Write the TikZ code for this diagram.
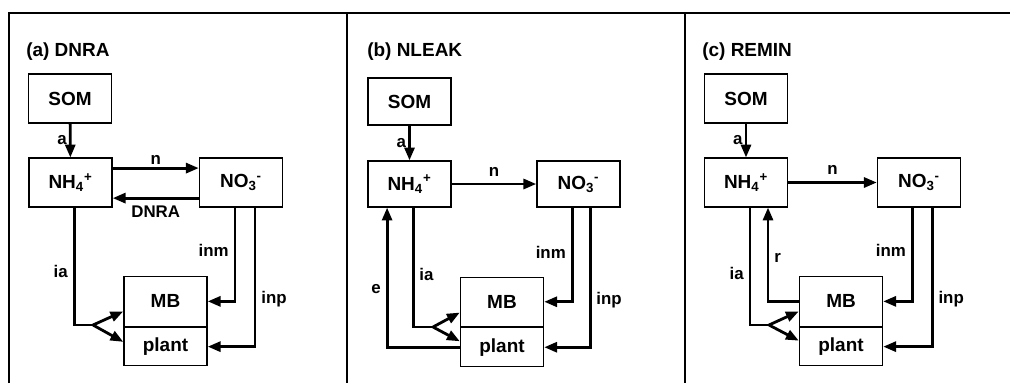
\documentclass[tikz,border=0pt]{standalone}
\usepackage{fontspec}
\setmainfont{Liberation Sans}
\usetikzlibrary{arrows.meta, positioning}

\begin{document}
\begin{tikzpicture}[
  x=0.025cm, y=-0.025cm,
  pool/.style={draw, line width=0.9pt, minimum width=2.08cm, minimum height=1.22cm,
               inner sep=0pt, font=\fontsize{13.5}{15}\selectfont\bfseries},
  flux/.style={-{Triangle[length=0.32cm, width=0.25cm]}, line width=2pt},
  pipe/.style={line width=2pt},
  lbl/.style={font=\fontsize{12}{14}\selectfont\bfseries, inner sep=1.5pt},
  ttl/.style={anchor=west, inner sep=0pt, font=\fontsize{13.5}{15}\selectfont\bfseries},
  frame/.style={line width=1pt},
]
\useasboundingbox (0,0) rectangle (1010,383);

%% ---- frame ----
\draw[frame] (9,383) -- (9,13) -- (1010,13);
\draw[frame] (347,13) -- (347,383);
\draw[frame] (685,13) -- (685,383);

%% ---- Panel (a): DNRA ----
\node[ttl] (ttlA) at (26,52) {(a) DNRA};
\node[pool] (somA) at (70,98.5) {SOM};
\node[pool] (nhA)  at (70.5,182.5) {NH\textsubscript{4}\textsuperscript{+}};
\node[pool] (noA)  at (241,182.5) {NO\textsubscript{3}\textsuperscript{-}};
\node[pool, minimum height=1.25cm, anchor=south] (mbA) at (165.5,327) {MB};
\node[pool, minimum height=0.95cm, anchor=north] (plA) at (165.5,327) {plant};
\coordinate (forkA) at (93,325);

\draw[flux] (somA) -- (nhA) node[lbl, midway, left=0pt] {a};
\draw[flux] ([yshift=0.36cm]nhA.east) -- ([yshift=0.36cm]noA.west)
  node[lbl, midway, above] {n};
\draw[flux] ([yshift=-0.39cm]noA.west) -- ([yshift=-0.39cm]nhA.east)
  node[lbl, midway, below=3pt] {DNRA};
\draw[pipe] ([xshift=0.09cm]nhA.south) |- (forkA) node[lbl, pos=0.27, left=2pt] {ia};
\draw[flux] (forkA) -- ([yshift=-0.25cm]mbA.west);
\draw[flux] (forkA) -- ([yshift=0.12cm]plA.west);
\draw[flux] ([xshift=-0.15cm]noA.south) |- (mbA.east) node[lbl, pos=0.23, left=2pt] {inm};
\draw[flux] ([xshift=0.35cm]noA.south) |- (plA.east) node[lbl, pos=0.33, right=2pt] {inp};

%% ---- Panel (b): NLEAK ----
\node[ttl] (ttlB) at (367,52) {(b) NLEAK};
\node[pool, minimum height=1.17cm] (somB) at (409.5,101.5) {SOM};
\node[pool, minimum height=1.15cm] (nhB)  at (409.5,184) {NH\textsubscript{4}\textsuperscript{+}};
\node[pool, minimum height=1.15cm] (noB)  at (578.5,184) {NO\textsubscript{3}\textsuperscript{-}};
\node[pool, minimum height=1.23cm, anchor=south] (mbB) at (502,327) {MB};
\node[pool, minimum height=0.98cm, anchor=north] (plB) at (502,327) {plant};
\coordinate (forkB) at (433,327);

\draw[flux] (somB) -- (nhB) node[lbl, midway, left=0pt] {a};
\draw[flux] (nhB) -- (noB) node[lbl, midway, above=3pt] {n};
\draw[pipe] ([xshift=0.09cm]nhB.south) |- (forkB) node[lbl, pos=0.28, right=2pt] {ia};
\draw[flux] (forkB) -- ([yshift=-0.27cm]mbB.west);
\draw[flux] (forkB) -- ([yshift=0.15cm]plB.west);
\draw[flux] (plB.west) -| ([xshift=-0.56cm]nhB.south) node[lbl, pos=0.71, left=2pt] {e};
\draw[flux] ([xshift=-0.16cm]noB.south) |- (mbB.east) node[lbl, pos=0.24, left=2pt] {inm};
\draw[flux] ([xshift=0.29cm]noB.south) |- (plB.east) node[lbl, pos=0.33, right=2pt] {inp};

%% ---- Panel (c): REMIN ----
\node[ttl] (ttlC) at (702,52) {(c) REMIN};
\node[pool] (somC) at (746,98.5) {SOM};
\node[pool] (nhC)  at (746,182.5) {NH\textsubscript{4}\textsuperscript{+}};
\node[pool] (noC)  at (919,182.5) {NO\textsubscript{3}\textsuperscript{-}};
\node[pool, minimum height=1.25cm, anchor=south] (mbC) at (841,327) {MB};
\node[pool, minimum height=0.95cm, anchor=north] (plC) at (841,327) {plant};
\coordinate (forkC) at (769,325);

\draw[flux] (somC) -- (nhC) node[lbl, midway, left=0pt] {a};
\draw[flux] (nhC) -- (noC) node[lbl, midway, above=3pt] {n};
\draw[pipe] ([xshift=0.1cm]nhC.south) |- (forkC) node[lbl, pos=0.28, left=2pt] {ia};
\draw[flux] (forkC) -- ([yshift=-0.25cm]mbC.west);
\draw[flux] (forkC) -- ([yshift=0.15cm]plC.west);
\draw[flux] (mbC.west) -| ([xshift=0.55cm]nhC.south) node[lbl, pos=0.73, right=2pt] {r};
\draw[flux] ([xshift=-0.17cm]noC.south) |- (mbC.east) node[lbl, pos=0.23, left=2pt] {inm};
\draw[flux] ([xshift=0.33cm]noC.south) |- (plC.east) node[lbl, pos=0.33, right=2pt] {inp};

\end{tikzpicture}
\end{document}
